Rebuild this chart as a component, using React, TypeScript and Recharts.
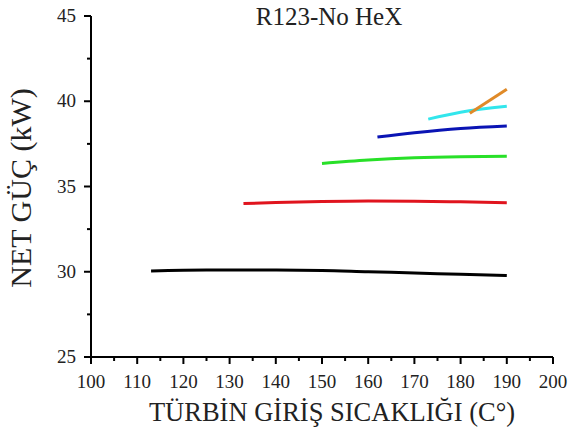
import React from "react";
import { LineChart, Line, XAxis, YAxis } from "recharts";

const xTicks = [100, 105, 110, 115, 120, 125, 130, 135, 140, 145, 150, 155, 160, 165, 170, 175, 180, 185, 190, 195, 200];
const yTicks = [25, 27.5, 30, 32.5, 35, 37.5, 40, 42.5, 45];

const blackT = [113, 125, 140, 150, 160, 170, 180, 190];
const blackP = [30.05, 30.1, 30.1, 30.08, 30.0, 29.93, 29.85, 29.78];
const redT = [133, 140, 150, 160, 170, 180, 190];
const redP = [34.0, 34.06, 34.12, 34.15, 34.14, 34.1, 34.05];
const greenT = [150, 160, 170, 180, 190];
const greenP = [36.35, 36.55, 36.68, 36.75, 36.78];
const blueT = [162, 170, 180, 190];
const blueP = [37.9, 38.15, 38.4, 38.55];
const cyanT = [173, 180, 190];
const cyanP = [38.95, 39.35, 39.7];
const orangeT = [182, 190];
const orangeP = [39.3, 40.7];

const toRows = (t: number[], p: number[]) => t.map((x, i) => ({ t: x, p: p[i] }));

const series = [
  { name: "black", color: "#000000", data: toRows(blackT, blackP) },
  { name: "red", color: "#e0141e", data: toRows(redT, redP) },
  { name: "green", color: "#28e028", data: toRows(greenT, greenP) },
  { name: "blue", color: "#0a14b4", data: toRows(blueT, blueP) },
  { name: "cyan", color: "#32e6ec", data: toRows(cyanT, cyanP) },
  { name: "orange", color: "#e08a28", data: toRows(orangeT, orangeP) },
];

const font = "'Liberation Serif', 'Times New Roman', serif";

const XTick = (props: any) => {
  const { x, y, payload } = props;
  const major = payload.value % 10 === 0;
  return (
    <g>
      <line x1={x} x2={x} y1={y} y2={y + (major ? 7 : 4)} stroke="#000" strokeWidth={2} />
      {major && (
        <text x={x} y={y + 31} textAnchor="middle" fontFamily={font} fontSize={19} fill="#222">
          {payload.value}
        </text>
      )}
    </g>
  );
};

const YTick = (props: any) => {
  const { x, y, payload } = props;
  const major = payload.value % 5 === 0;
  return (
    <g>
      <line x1={x} x2={x - (major ? 7 : 4)} y1={y} y2={y} stroke="#000" strokeWidth={2} />
      {major && (
        <text x={x - 15} y={y + 6} textAnchor="end" fontFamily={font} fontSize={19} fill="#222">
          {payload.value}
        </text>
      )}
    </g>
  );
};

export default function App() {
  return (
    <div style={{ position: "absolute", left: 0, top: 0, width: 571, height: 432, background: "#fff" }}>
      <LineChart width={571} height={432} margin={{ top: 16, right: 18, left: 0, bottom: 0 }}>
        <XAxis
          dataKey="t"
          type="number"
          domain={[100, 200]}
          ticks={xTicks}
          interval={0}
          height={75}
          tickSize={0}
          tickMargin={0}
          tickLine={false}
          tick={<XTick />}
          axisLine={{ stroke: "#000", strokeWidth: 2 }}
          allowDuplicatedCategory={false}
        />
        <YAxis
          type="number"
          domain={[25, 45]}
          ticks={yTicks}
          interval={0}
          width={91}
          tickSize={0}
          tickMargin={0}
          tickLine={false}
          tick={<YTick />}
          axisLine={{ stroke: "#000", strokeWidth: 2 }}
        />
        {series.map((s) => (
          <Line
            key={s.name}
            data={s.data}
            dataKey="p"
            type="monotone"
            stroke={s.color}
            strokeWidth={3}
            dot={false}
            isAnimationActive={false}
          />
        ))}
      </LineChart>
      <svg width={571} height={432} style={{ position: "absolute", left: 0, top: 0, pointerEvents: "none" }}>
        <text x={329} y={25} textAnchor="middle" fontFamily={font} fontSize={25} fill="#222">
          R123-No HeX
        </text>
        <text x={332} y={421} textAnchor="middle" fontFamily={font} fontSize={26.5} fill="#222">
          TÜRBİN GİRİŞ SICAKLIĞI (C°)
        </text>
        <text
          x={31}
          y={188}
          textAnchor="middle"
          fontFamily={font}
          fontSize={30}
          fill="#222"
          transform="rotate(-90 31 188)"
        >
          NET GÜÇ (kW)
        </text>
      </svg>
    </div>
  );
}
